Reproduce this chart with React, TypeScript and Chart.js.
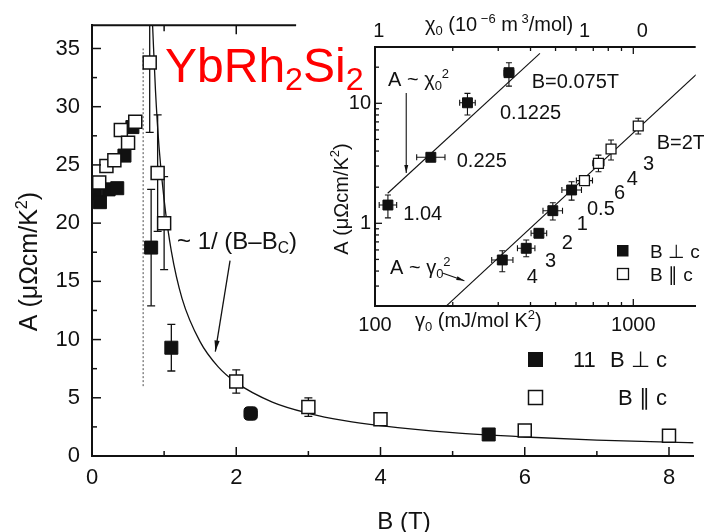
import React, { useEffect, useRef } from 'react';
import { Chart, registerables } from 'chart.js';

Chart.register(...registerables);

const FONT = "'Liberation Sans', Arial, Helvetica, sans-serif";
const INK = '#111';

// ---------------- main panel: A vs B ----------------
const B_TICKS = [0, 2, 4, 6, 8];
const B_MINOR = [1, 3, 5, 7];
const A_TICKS = [0, 5, 10, 15, 20, 25, 30, 35];
const A_MINOR = [2.5, 7.5, 12.5, 17.5, 22.5, 27.5, 32.5];

// B perpendicular c (filled squares)
const B_PERP = [0.04, 0.11, 0.23, 0.35, 0.45, 0.56, 0.82, 1.1, 2.2, 5.5];
const A_PERP = [22.6, 21.8, 22.9, 23.0, 25.8, 28.25, 17.9, 9.3, 3.65, 1.85];
const A_PERP_ERR = [0, 0, 0, 0, 0, 0, 5.0, 2.0, 0, 0];

// B parallel c (open squares)
const B_PAR = [0.1, 0.2, 0.31, 0.4, 0.5, 0.6, 0.8, 0.91, 1.0, 2.0, 3.0, 4.0, 6.0, 8.0];
const A_PAR = [23.5, 24.9, 25.4, 28.0, 26.9, 28.7, 33.8, 24.3, 20.0, 6.4, 4.2, 3.15, 2.2, 1.74];
const A_PAR_ERR = [0, 0, 0, 0, 0, 0, 6.0, 5.0, 4.0, 1.0, 0.8, 0, 0, 0];

// ~1/(B-Bc) curve
const FIT_B = [0.84, 0.88, 0.93, 1.0, 1.1, 1.25, 1.5, 1.75, 2.0, 2.5, 3.0, 3.5, 4.0, 5.0, 6.0, 7.0, 8.0, 8.4];
const FIT_A = [37, 31.4, 26.5, 22.0, 17.6, 13.5, 9.8, 7.65, 6.3, 4.63, 3.67, 3.03, 2.6, 2.0, 1.63, 1.37, 1.19, 1.13];

// dotted line at Bc
const BC_B = [0.71, 0.71];
const BC_A = [6.0, 35.0];

// arrow pointing at the curve
const ARROW_B = [1.914, 1.71];
const ARROW_A = [16.78, 8.97];

const TOP_AXIS_END_B = 2.83;

// ---------------- inset: A vs gamma0 (log-log) ----------------
const G_MAJOR = [100, 1000];
const G_MINOR = [200, 300, 400, 500, 600, 700, 800, 900];
const AI_MAJOR = [1, 10];
const AI_MINOR = [0.3, 0.4, 0.5, 0.6, 0.7, 0.8, 0.9, 2, 3, 4, 5, 6, 7, 8, 9, 20];
const CHI_TICK_LABELS = ['1', '1', '0'];
const CHI_TICK_G = [103.5, 647, 1084];

// A vs chi0 (upper row, filled)
const CHI_G = [112.2, 164.5, 228, 330];
const CHI_A = [1.42, 3.55, 10.1, 18.0];
const CHI_A_LO = [1.11, 3.55, 8.0, 13.9];
const CHI_A_HI = [1.72, 3.55, 12.1, 21.8];
const CHI_G_LO = [103.8, 145, 212.7, 316];
const CHI_G_HI = [121.3, 186.6, 244.4, 344.5];

// A vs gamma0, B perp c (filled)
const GP_G = [311, 385, 431, 488, 577];
const GP_A = [0.495, 0.619, 0.826, 1.274, 1.895];
const GP_A_LO = [0.395, 0.527, 0.77, 1.065, 1.56];
const GP_A_HI = [0.59, 0.725, 0.89, 1.485, 2.22];
const GP_G_LO = [283, 356, 402, 447, 529];
const GP_G_HI = [342, 416, 462, 532, 630];

// A vs gamma0, B par c (open)
const GL_G = [647, 733, 820, 1045];
const GL_A = [2.27, 3.16, 4.16, 6.47];
const GL_A_LO = [2.27, 2.69, 3.37, 5.55];
const GL_A_HI = [2.27, 3.7, 4.95, 7.5];
const GL_G_LO = [602, 697, 805, 1045];
const GL_G_HI = [695, 770, 835, 1045];

// A ~ chi^2 and A ~ gamma^2 lines
const LINE_CHI_G = [112, 435];
const LINE_CHI_A = [1.78, 26.1];
const LINE_GAM_G = [189, 1750];
const LINE_GAM_A = [0.205, 17.3];

// arrows in the inset
const ARR_CHI_G = [132.1, 132.1];
const ARR_CHI_A = [12.18, 2.63];
const ARR_GAM_G = [183.5, 221.8];
const ARR_GAM_A = [0.383, 0.332];

type Seg = { t: string; s?: 'sub' | 'sup' };

function drawRich(
  ctx: CanvasRenderingContext2D,
  segs: Seg[],
  x: number,
  y: number,
  size: number,
  opts: { align?: 'left' | 'center'; color?: string; rotate?: boolean; subScale?: number; subDy?: number; supDy?: number } = {}
) {
  const subScale = opts.subScale ?? 0.65;
  const subDy = opts.subDy ?? 0.2;
  const supDy = opts.supDy ?? 0.42;
  ctx.save();
  ctx.fillStyle = opts.color ?? INK;
  ctx.textAlign = 'left';
  ctx.textBaseline = 'alphabetic';
  let w = 0;
  for (const s of segs) {
    ctx.font = `${s.s ? size * subScale : size}px ${FONT}`;
    w += ctx.measureText(s.t).width;
  }
  ctx.translate(x, y);
  if (opts.rotate) ctx.rotate(-Math.PI / 2);
  let cx = opts.align === 'center' ? -w / 2 : 0;
  for (const s of segs) {
    ctx.font = `${s.s ? size * subScale : size}px ${FONT}`;
    const dy = s.s === 'sub' ? size * subDy : s.s === 'sup' ? -size * supDy : 0;
    ctx.fillText(s.t, cx, dy);
    cx += ctx.measureText(s.t).width;
  }
  ctx.restore();
}

function line(ctx: CanvasRenderingContext2D, x1: number, y1: number, x2: number, y2: number) {
  ctx.beginPath();
  ctx.moveTo(x1, y1);
  ctx.lineTo(x2, y2);
  ctx.stroke();
}

function arrow(ctx: CanvasRenderingContext2D, x1: number, y1: number, x2: number, y2: number, len: number, half: number) {
  line(ctx, x1, y1, x2, y2);
  const a = Math.atan2(y2 - y1, x2 - x1);
  const bx = x2 - Math.cos(a) * len;
  const by = y2 - Math.sin(a) * len;
  ctx.beginPath();
  ctx.moveTo(x2, y2);
  ctx.lineTo(bx + Math.sin(a) * half, by - Math.cos(a) * half);
  ctx.lineTo(bx - Math.sin(a) * half, by + Math.cos(a) * half);
  ctx.closePath();
  ctx.fill();
}

const mainPlugin = {
  id: 'mainExtras',
  beforeDatasetsDraw(chart: any) {
    const { ctx, chartArea: ca } = chart;
    const x = chart.scales.x;
    const y = chart.scales.y;
    ctx.save();
    ctx.beginPath();
    ctx.rect(ca.left, ca.top, ca.right - ca.left, ca.bottom - ca.top);
    ctx.clip();
    ctx.strokeStyle = INK;
    ctx.lineWidth = 1.3;
    const bars = (bs: number[], as: number[], es: number[]) => {
      bs.forEach((b, i) => {
        if (!es[i]) return;
        const px = x.getPixelForValue(b);
        const y1 = y.getPixelForValue(as[i] - es[i]);
        const y2 = y.getPixelForValue(as[i] + es[i]);
        line(ctx, px, y1, px, y2);
        line(ctx, px - 4, y1, px + 4, y1);
        line(ctx, px - 4, y2, px + 4, y2);
      });
    };
    bars(B_PERP, A_PERP, A_PERP_ERR);
    bars(B_PAR, A_PAR, A_PAR_ERR);
    ctx.restore();
  },
  afterDraw(chart: any) {
    const { ctx, chartArea: ca } = chart;
    const x = chart.scales.x;
    const y = chart.scales.y;
    ctx.save();
    ctx.strokeStyle = INK;
    ctx.fillStyle = INK;
    ctx.lineWidth = 1.5;
    B_TICKS.forEach((v) => { const p = x.getPixelForValue(v); line(ctx, p, ca.bottom, p, ca.bottom - 9); });
    B_MINOR.forEach((v) => { const p = x.getPixelForValue(v); line(ctx, p, ca.bottom, p, ca.bottom - 5); });
    A_TICKS.forEach((v) => { const p = y.getPixelForValue(v); line(ctx, ca.left, p, ca.left + 9, p); });
    A_MINOR.forEach((v) => { const p = y.getPixelForValue(v); line(ctx, ca.left, p, ca.left + 5, p); });
    // partial top axis
    const topEnd = x.getPixelForValue(TOP_AXIS_END_B);
    ctx.lineWidth = 2;
    line(ctx, ca.left - 1, ca.top, topEnd, ca.top);
    ctx.lineWidth = 1.5;
    B_TICKS.forEach((v) => { const p = x.getPixelForValue(v); if (p > ca.left + 2 && p < topEnd) line(ctx, p, ca.top, p, ca.top + 9); });
    B_MINOR.forEach((v) => { const p = x.getPixelForValue(v); if (p < topEnd) line(ctx, p, ca.top, p, ca.top + 6); });

    // arrow to curve
    ctx.lineWidth = 1.3;
    arrow(ctx, x.getPixelForValue(ARROW_B[0]), y.getPixelForValue(ARROW_A[0]), x.getPixelForValue(ARROW_B[1]), y.getPixelForValue(ARROW_A[1]), 11, 2.6);

    // title
    drawRich(ctx, [{ t: 'YbRh' }, { t: '2', s: 'sub' }, { t: 'Si' }, { t: '2', s: 'sub' }], 165, 81.7, 48, {
      color: '#ff0000', subScale: 0.67, subDy: 0.18,
    });
    // curve label
    drawRich(ctx, [{ t: '~ 1/ (B\u2013B' }, { t: 'C', s: 'sub' }, { t: ')' }], 177, 248.5, 24);

    // legend
    ctx.fillStyle = INK;
    ctx.fillRect(528, 352, 15, 15);
    ctx.fillStyle = '#fff';
    ctx.lineWidth = 1.5;
    ctx.fillRect(528.5, 390.5, 14, 14);
    ctx.strokeRect(528.5, 390.5, 14, 14);
    drawRich(ctx, [{ t: '11' }], 573, 367, 22);
    drawRich(ctx, [{ t: 'B \u22A5 c' }], 610, 367, 22);
    drawRich(ctx, [{ t: 'B \u2225 c' }], 618, 405, 22);

    // axis titles
    drawRich(ctx, [{ t: 'B (T)' }], 404, 529, 24, { align: 'center' });
    drawRich(ctx, [{ t: 'A (\u03BC\u03A9cm/K' }, { t: '2', s: 'sup' }, { t: ')' }], 37, 261.5, 25, { align: 'center', rotate: true });
    ctx.restore();
  },
};

const OFF_X = 320;

const insetPlugin = {
  id: 'insetExtras',
  beforeDatasetsDraw(chart: any) {
    const { ctx, chartArea: ca } = chart;
    const x = chart.scales.x;
    const y = chart.scales.y;
    ctx.save();
    ctx.beginPath();
    ctx.rect(ca.left, ca.top, ca.right - ca.left, ca.bottom - ca.top);
    ctx.clip();
    ctx.strokeStyle = INK;
    ctx.lineWidth = 1.1;
    const bars = (gs: number[], as: number[], alo: number[], ahi: number[], glo: number[], ghi: number[]) => {
      gs.forEach((g, i) => {
        const px = x.getPixelForValue(g);
        const py = y.getPixelForValue(as[i]);
        if (ahi[i] > alo[i]) {
          const y1 = y.getPixelForValue(alo[i]);
          const y2 = y.getPixelForValue(ahi[i]);
          line(ctx, px, y1, px, y2);
          line(ctx, px - 3, y1, px + 3, y1);
          line(ctx, px - 3, y2, px + 3, y2);
        }
        if (ghi[i] > glo[i]) {
          const x1 = x.getPixelForValue(glo[i]);
          const x2 = x.getPixelForValue(ghi[i]);
          line(ctx, x1, py, x2, py);
          line(ctx, x1, py - 3, x1, py + 3);
          line(ctx, x2, py - 3, x2, py + 3);
        }
      });
    };
    bars(CHI_G, CHI_A, CHI_A_LO, CHI_A_HI, CHI_G_LO, CHI_G_HI);
    bars(GP_G, GP_A, GP_A_LO, GP_A_HI, GP_G_LO, GP_G_HI);
    bars(GL_G, GL_A, GL_A_LO, GL_A_HI, GL_G_LO, GL_G_HI);
    ctx.restore();
  },
  afterDraw(chart: any) {
    const { ctx, chartArea: ca } = chart;
    const x = chart.scales.x;
    const y = chart.scales.y;
    ctx.save();
    ctx.strokeStyle = INK;
    ctx.fillStyle = INK;
    // top frame line
    ctx.lineWidth = 2;
    line(ctx, ca.left - 1, ca.top, ca.right, ca.top);
    ctx.lineWidth = 1.3;
    G_MAJOR.forEach((v) => {
      const p = x.getPixelForValue(v);
      if (p <= ca.left + 1) return;
      line(ctx, p, ca.bottom, p, ca.bottom - 7);
      line(ctx, p, ca.top, p, ca.top + 7);
    });
    G_MINOR.forEach((v) => {
      const p = x.getPixelForValue(v);
      line(ctx, p, ca.bottom, p, ca.bottom - 4);
      line(ctx, p, ca.top, p, ca.top + 4);
    });
    AI_MAJOR.forEach((v) => { const p = y.getPixelForValue(v); line(ctx, ca.left, p, ca.left + 7, p); });
    AI_MINOR.forEach((v) => { const p = y.getPixelForValue(v); line(ctx, ca.left, p, ca.left + 4, p); });

    // top chi axis labels and title
    ctx.font = `20px ${FONT}`;
    ctx.textAlign = 'center';
    ctx.textBaseline = 'alphabetic';
    CHI_TICK_LABELS.forEach((t, i) => ctx.fillText(t, x.getPixelForValue(CHI_TICK_G[i]), 37));
    drawRich(ctx, [{ t: '\u03C7' }, { t: '0', s: 'sub' }, { t: ' (10' }, { t: ' \u22126', s: 'sup' }, { t: ' m' }, { t: ' 3', s: 'sup' }, { t: '/mol)' }], 425 - OFF_X, 31, 20);

    // axis titles
    drawRich(ctx, [{ t: '\u03B3' }, { t: '0', s: 'sub' }, { t: ' (mJ/mol K' }, { t: '2', s: 'sup' }, { t: ')' }], 415 - OFF_X, 327, 20);
    drawRich(ctx, [{ t: 'A (\u03BC\u03A9cm/K' }, { t: '2', s: 'sup' }, { t: ')' }], 347.5 - OFF_X, 199, 20, { align: 'center', rotate: true });

    // arrows
    ctx.lineWidth = 1.1;
    arrow(ctx, x.getPixelForValue(ARR_CHI_G[0]), y.getPixelForValue(ARR_CHI_A[0]), x.getPixelForValue(ARR_CHI_G[1]), y.getPixelForValue(ARR_CHI_A[1]), 8, 2);
    arrow(ctx, x.getPixelForValue(ARR_GAM_G[0]), y.getPixelForValue(ARR_GAM_A[0]), x.getPixelForValue(ARR_GAM_G[1]), y.getPixelForValue(ARR_GAM_A[1]), 8, 2);

    // relation labels
    drawRich(ctx, [{ t: 'A ~ \u03C7' }, { t: '0', s: 'sub' }, { t: '2', s: 'sup' }], 388 - OFF_X, 86, 20);
    drawRich(ctx, [{ t: 'A ~ \u03B3' }, { t: '0', s: 'sub' }, { t: '2', s: 'sup' }], 390 - OFF_X, 274, 20);

    // point labels
    const labels: [string, number, number][] = [
      ['B=0.075T', 531.7, 88],
      ['0.1225', 500, 118.7],
      ['0.225', 456.7, 167],
      ['1.04', 403.3, 220.3],
      ['B=2T', 656.7, 148.7],
      ['3', 643, 169.5],
      ['4', 626.7, 185],
      ['6', 614, 198.7],
      ['0.5', 587, 215],
      ['1', 576.7, 230],
      ['2', 561.7, 248.7],
      ['3', 545, 267],
      ['4', 526.7, 283],
    ];
    labels.forEach(([t, lx, ly]) => drawRich(ctx, [{ t }], lx - OFF_X, ly, 20));

    // inset legend
    ctx.fillStyle = INK;
    ctx.fillRect(617 - OFF_X, 245, 11.5, 11.5);
    ctx.fillStyle = '#fff';
    ctx.lineWidth = 1.3;
    ctx.fillRect(617.5 - OFF_X, 268.5, 11, 11);
    ctx.strokeRect(617.5 - OFF_X, 268.5, 11, 11);
    drawRich(ctx, [{ t: 'B \u22A5 c' }], 650 - OFF_X, 258, 19);
    drawRich(ctx, [{ t: 'B \u2225 c' }], 650 - OFF_X, 281, 19);
    ctx.restore();
  },
};

const pts = (xs: number[], ys: number[]) => xs.map((v, i) => ({ x: v, y: ys[i] }));

export default function App() {
  const mainRef = useRef<HTMLCanvasElement>(null);
  const insetRef = useRef<HTMLCanvasElement>(null);

  useEffect(() => {
    const main = new Chart(mainRef.current as HTMLCanvasElement, {
      type: 'scatter',
      data: {
        datasets: [
          {
            label: 'B || c',
            data: pts(B_PAR, A_PAR),
            pointStyle: 'rect',
            pointRadius: 9.2,
            backgroundColor: '#fff',
            borderColor: INK,
            borderWidth: 1.5,
            showLine: false,
          },
          {
            label: 'B \u22A5 c',
            data: pts(B_PERP, A_PERP),
            pointStyle: B_PERP.map((b) => (b === 2.2 ? 'rectRounded' : 'rect')) as any,
            pointRadius: B_PERP.map((b) => (b === 2.2 ? 7.8 : 9.2)),
            backgroundColor: INK,
            borderColor: INK,
            borderWidth: 1,
            showLine: false,
          },
          {
            label: 'fit',
            data: pts(FIT_B, FIT_A),
            showLine: true,
            pointRadius: 0,
            borderColor: INK,
            borderWidth: 1.3,
            cubicInterpolationMode: 'monotone',
          },
          {
            label: 'Bc',
            data: pts(BC_B, BC_A),
            showLine: true,
            pointRadius: 0,
            borderColor: '#888',
            borderWidth: 1.5,
            borderDash: [2, 2],
          },
        ],
      },
      options: {
        responsive: false,
        animation: false,
        devicePixelRatio: 1,
        layout: { padding: { top: 17, right: 0, left: 0, bottom: 0 } },
        plugins: { legend: { display: false }, tooltip: { enabled: false } },
        scales: {
          x: {
            type: 'linear',
            min: 0,
            max: 8.337,
            bounds: 'data',
            afterBuildTicks: (s: any) => { s.ticks = B_TICKS.map((v) => ({ value: v })); },
            afterFit: (s: any) => { s.height = 76; },
            grid: { display: false, drawTicks: false },
            border: { display: true, color: INK, width: 2 },
            ticks: { color: INK, font: { family: FONT, size: 22 }, padding: 9, maxRotation: 0, autoSkip: false },
          },
          y: {
            type: 'linear',
            min: 0,
            max: 37,
            bounds: 'data',
            afterBuildTicks: (s: any) => { s.ticks = A_TICKS.map((v) => ({ value: v })); },
            afterFit: (s: any) => { s.width = 92; },
            grid: { display: false, drawTicks: false },
            border: { display: true, color: INK, width: 2 },
            ticks: { color: INK, font: { family: FONT, size: 22 }, padding: 12, autoSkip: false },
          },
        },
      } as any,
      plugins: [mainPlugin],
    });

    const inset = new Chart(insetRef.current as HTMLCanvasElement, {
      type: 'scatter',
      data: {
        datasets: [
          {
            label: 'B || c',
            data: pts(GL_G, GL_A),
            pointStyle: 'rect',
            pointRadius: 7,
            backgroundColor: '#fff',
            borderColor: INK,
            borderWidth: 1.3,
            showLine: false,
          },
          {
            label: 'B \u22A5 c',
            data: pts(GP_G, GP_A),
            pointStyle: 'rect',
            pointRadius: 7,
            backgroundColor: INK,
            borderColor: INK,
            borderWidth: 1,
            showLine: false,
          },
          {
            label: 'chi',
            data: pts(CHI_G, CHI_A),
            pointStyle: 'rect',
            pointRadius: 7,
            backgroundColor: INK,
            borderColor: INK,
            borderWidth: 1,
            showLine: false,
          },
          {
            label: 'A ~ chi^2',
            data: pts(LINE_CHI_G, LINE_CHI_A),
            showLine: true,
            pointRadius: 0,
            borderColor: INK,
            borderWidth: 1.1,
          },
          {
            label: 'A ~ gamma^2',
            data: pts(LINE_GAM_G, LINE_GAM_A),
            showLine: true,
            pointRadius: 0,
            borderColor: INK,
            borderWidth: 1.1,
          },
        ],
      },
      options: {
        responsive: false,
        animation: false,
        devicePixelRatio: 1,
        layout: { padding: { top: 47, right: 0, left: 0, bottom: 0 } },
        plugins: { legend: { display: false }, tooltip: { enabled: false } },
        scales: {
          x: {
            type: 'logarithmic',
            min: 100,
            max: 1744,
            bounds: 'data',
            afterBuildTicks: (s: any) => { s.ticks = G_MAJOR.map((v) => ({ value: v })); },
            afterFit: (s: any) => { s.height = 39; },
            grid: { display: false, drawTicks: false },
            border: { display: true, color: INK, width: 2 },
            ticks: { color: INK, font: { family: FONT, size: 20 }, padding: 7, maxRotation: 0, autoSkip: false, callback: (v: any) => String(v) },
          },
          y: {
            type: 'logarithmic',
            min: 0.2046,
            max: 29.46,
            bounds: 'data',
            afterBuildTicks: (s: any) => { s.ticks = AI_MAJOR.map((v) => ({ value: v })); },
            afterFit: (s: any) => { s.width = 55; },
            grid: { display: false, drawTicks: false },
            border: { display: true, color: INK, width: 2 },
            ticks: { color: INK, font: { family: FONT, size: 20 }, padding: 4, autoSkip: false, callback: (v: any) => String(v) },
          },
        },
      } as any,
      plugins: [insetPlugin],
    });

    return () => {
      main.destroy();
      inset.destroy();
    };
  }, []);

  return (
    <div style={{ position: 'fixed', left: 0, top: 0, width: 704, height: 532, background: '#fff', overflow: 'hidden' }}>
      <canvas ref={mainRef} width={704} height={532} style={{ position: 'absolute', left: 0, top: 0, width: 704, height: 532 }} />
      <canvas ref={insetRef} width={384} height={345} style={{ position: 'absolute', left: OFF_X, top: 0, width: 384, height: 345 }} />
    </div>
  );
}
